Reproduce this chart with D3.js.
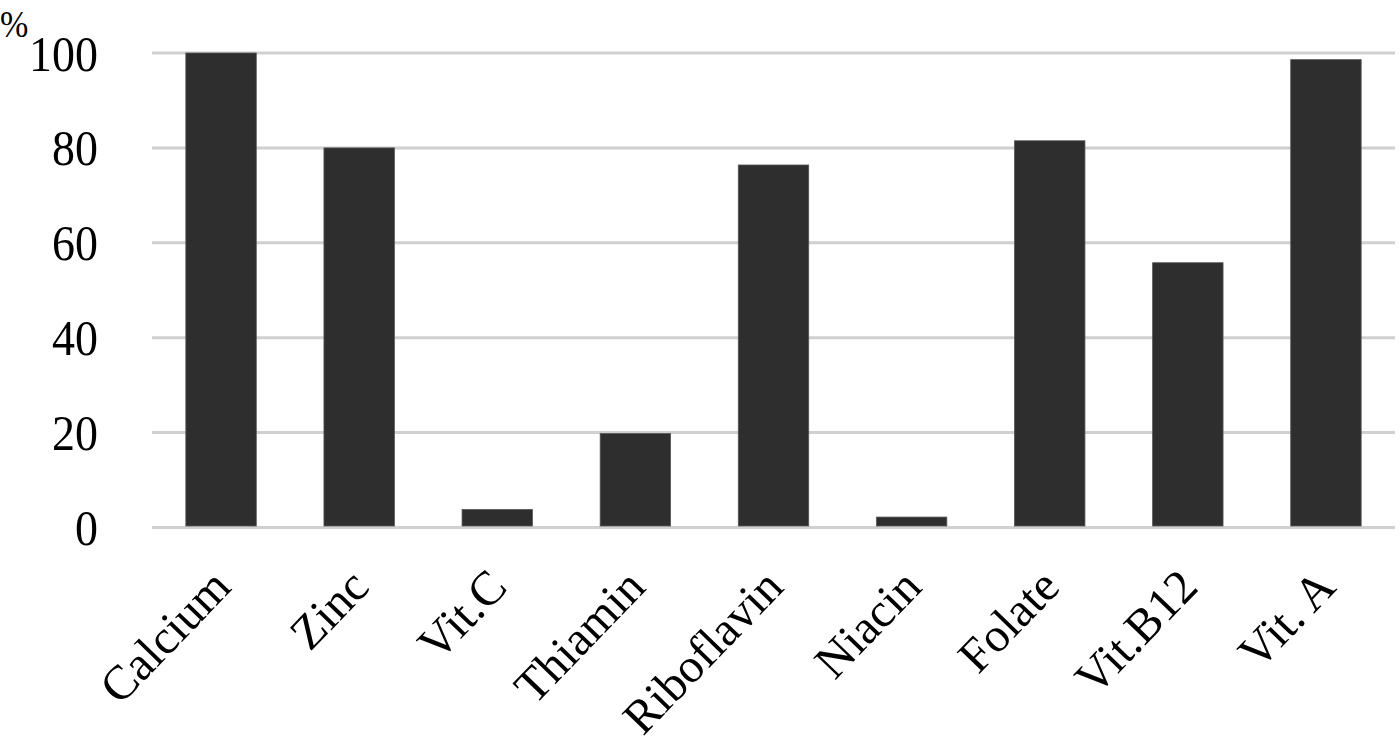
<!DOCTYPE html>
<html><head><meta charset="utf-8">
<script src="https://cdn.jsdelivr.net/npm/d3@7"></script>
<style>html,body{margin:0;padding:0;background:#fff;}</style>
</head><body>
<svg id="c" width="1400" height="745"></svg>
<script>
const categories = ["Calcium","Zinc","Vit.C","Thiamin","Riboflavin","Niacin","Folate","Vit.B12","Vit. A"];
const values = [100, 80, 3.8, 19.8, 76.4, 2.2, 81.5, 55.8, 98.6];
const yTicks = [0, 20, 40, 60, 80, 100];
const yUnit = "%";

const svg = d3.select("#c");
const font = "'Liberation Serif','Times New Roman',serif";
const x = d3.scaleBand().domain(categories).range([152, 1395]).paddingInner(0.49).paddingOuter(0.245);
const y = d3.scaleLinear().domain([0, 100]).range([527.5, 53]);

// gridlines
svg.append("g").selectAll("line").data(yTicks).join("line")
  .attr("x1", 152).attr("x2", 1395)
  .attr("y1", d => y(d)).attr("y2", d => y(d))
  .attr("stroke", "#d0d0d0").attr("stroke-width", 3);

// y tick labels (slightly stretched vertically like the reference)
svg.append("g").selectAll("text").data(yTicks).join("text")
  .attr("transform", d => `translate(98,${y(d)}) scale(1,1.12)`)
  .attr("text-anchor", "end").attr("dy", "0.34em")
  .attr("font-family", font).attr("font-size", 46).attr("fill", "#000")
  .text(d => d3.format("d")(d));

// bars
svg.append("g").selectAll("rect").data(values).join("rect")
  .attr("x", (d, i) => x(categories[i]))
  .attr("width", x.bandwidth())
  .attr("y", d => y(d))
  .attr("height", d => y(0) - 1.5 - y(d))
  .attr("fill", "#2e2e2e").attr("stroke", "#555").attr("stroke-width", 0.8);

// x labels
svg.append("g").selectAll("text").data(categories).join("text")
  .attr("transform", d => `translate(${x(d) + x.bandwidth() / 2 + 12},589) rotate(-46)`)
  .attr("text-anchor", "end")
  .attr("font-family", font).attr("font-size", 48).attr("fill", "#000")
  .text(d => d);

// unit label
svg.append("text").attr("transform", "translate(0,37) scale(1,1.12)")
  .attr("font-family", font).attr("font-size", 34).attr("fill", "#000").text(yUnit);
</script>
</body></html>
